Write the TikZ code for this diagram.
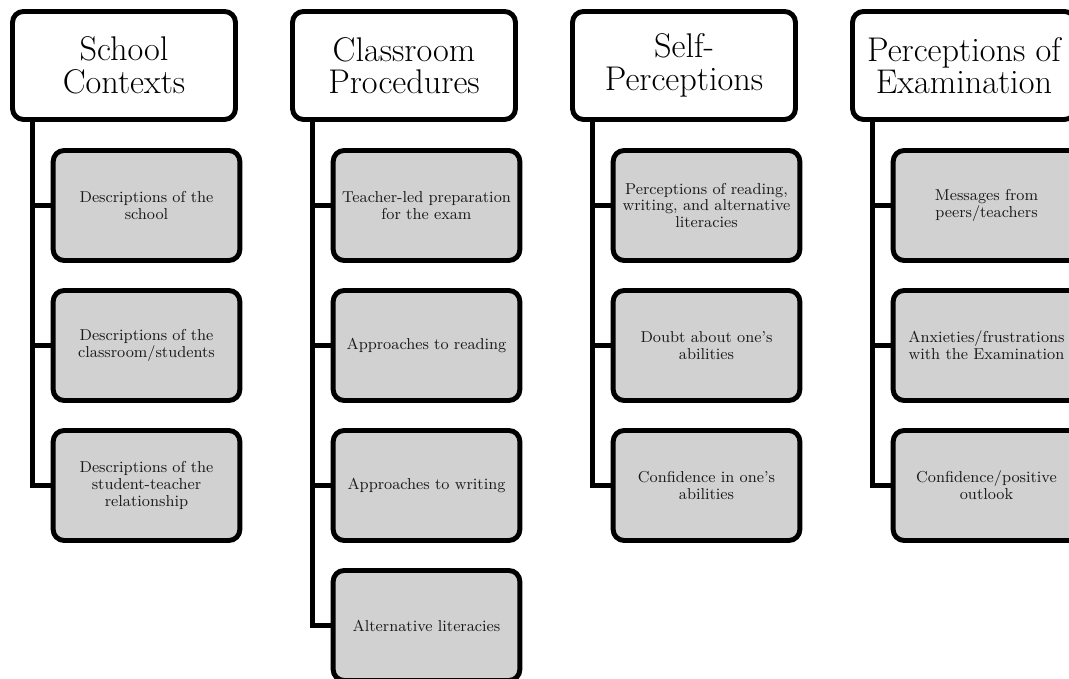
\documentclass[tikz,border=0pt]{standalone}
\usepackage{tikz}

\begin{document}
\begin{tikzpicture}[
  headbox/.style={draw=black, line width=2.8pt, fill=white, rounded corners=0.22cm,
    minimum width=4.46cm, minimum height=2.16cm, align=center,
    font=\fontsize{19.5}{18.5}\selectfont},
  itembox/.style={draw=black, line width=2.8pt, fill=black!18, rounded corners=0.22cm,
    minimum width=3.56cm, minimum height=2.2cm, text width=3.5cm, align=center,
    text=black!90, font=\fontsize{9}{9.6}\selectfont},
  trunk/.style={line width=2.8pt, black}
]
%\draw[step=0.5cm,gray,very thin] (0,0) grid (21.38,13.58); %background grid
\useasboundingbox (0,0) rectangle (21.38,13.58);

\node[headbox] (h1) at (2.48,12.27) {School\\Contexts};
\node[headbox] (h2) at (8.08,12.27) {Classroom\\Procedures};
\node[headbox] (h3) at (13.68,12.27) {Self-\\Perceptions};
\node[headbox] (h4) at (19.28,12.27) {Perceptions of\\Examination};

\node[itembox] (c11) at (2.93,9.47) {Descriptions of the\\school};
\node[itembox] (c12) at (2.93,6.67) {Descriptions of the\\classroom/students};
\node[itembox] (c13) at (2.93,3.87) {Descriptions of the\\student-teacher\\relationship};

\node[itembox] (c21) at (8.53,9.47) {Teacher-led preparation\\for the exam};
\node[itembox] (c22) at (8.53,6.67) {Approaches to reading};
\node[itembox] (c23) at (8.53,3.87) {Approaches to writing};
\node[itembox] (c24) at (8.53,1.07) {Alternative literacies};

\node[itembox] (c31) at (14.13,9.47) {Perceptions of reading,\\writing, and alternative\\literacies};
\node[itembox] (c32) at (14.13,6.67) {Doubt about one’s\\abilities};
\node[itembox] (c33) at (14.13,3.87) {Confidence in one’s\\abilities};

\node[itembox] (c41) at (19.73,9.47) {Messages from\\peers/teachers};
\node[itembox] (c42) at (19.73,6.67) {Anxieties/frustrations\\with the Examination};
\node[itembox] (c43) at (19.73,3.87) {Confidence/positive\\outlook};

% trunks and branches
\draw[trunk] ([xshift=0.45cm]h1.south west) |- (c13.west);
\draw[trunk] ([xshift=0.45cm]h1.south west) |- (c12.west);
\draw[trunk] ([xshift=0.45cm]h1.south west) |- (c11.west);

\draw[trunk] ([xshift=0.45cm]h2.south west) |- (c24.west);
\draw[trunk] ([xshift=0.45cm]h2.south west) |- (c23.west);
\draw[trunk] ([xshift=0.45cm]h2.south west) |- (c22.west);
\draw[trunk] ([xshift=0.45cm]h2.south west) |- (c21.west);

\draw[trunk] ([xshift=0.45cm]h3.south west) |- (c33.west);
\draw[trunk] ([xshift=0.45cm]h3.south west) |- (c32.west);
\draw[trunk] ([xshift=0.45cm]h3.south west) |- (c31.west);

\draw[trunk] ([xshift=0.45cm]h4.south west) |- (c43.west);
\draw[trunk] ([xshift=0.45cm]h4.south west) |- (c42.west);
\draw[trunk] ([xshift=0.45cm]h4.south west) |- (c41.west);

\end{tikzpicture}
\end{document}
